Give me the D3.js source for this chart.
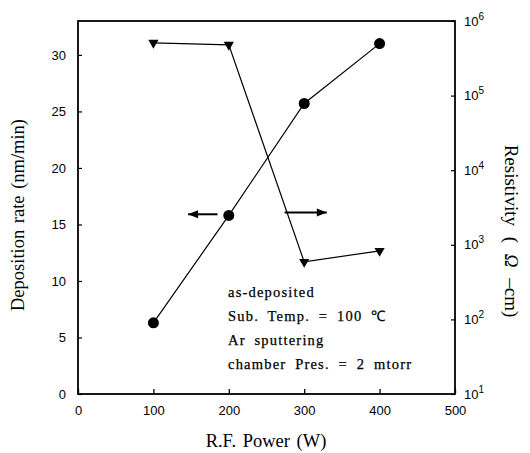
<!DOCTYPE html>
<html>
<head>
<meta charset="utf-8">
<script src="https://cdn.jsdelivr.net/npm/d3@7"></script>
<style>
  body { margin: 0; background: #fff; }
  svg { display: block; }
  .tick text { font-family: "Liberation Sans", Arial, sans-serif; font-size: 13px; fill: #000; }
</style>
</head>
<body>
<svg id="chart" width="530" height="453"></svg>
<script>
// Data
var power = [100, 200, 300, 400];
var depositionRate = [6.3, 15.8, 25.7, 31.0];
var resistivity = [5.1e5, 4.8e5, 590, 830];
var xTicks = [0, 100, 200, 300, 400, 500];
var yTicks = [0, 5, 10, 15, 20, 25, 30];
var rTicks = [1e1, 1e2, 1e3, 1e4, 1e5, 1e6];
var notes = ["as-deposited", "Sub. Temp. = 100 \u2103", "Ar sputtering", "chamber Pres. = 2 mtorr"];

var svg = d3.select("#chart");
// plot box (named so they don't clash with window.top)
var plotL = 78, plotR = 455, plotT = 21, plotB = 394;
var serif = "Liberation Serif, Times New Roman, serif";

var x = d3.scaleLinear().domain([0, 500]).range([plotL, plotR]);
var y = d3.scaleLinear().domain([0, 33]).range([plotB, plotT]);
var yR = d3.scaleLog().domain([10, 1e6]).range([plotB, plotT]);

// frame
svg.append("rect")
  .attr("x", plotL).attr("y", plotT)
  .attr("width", plotR - plotL).attr("height", plotB - plotT)
  .attr("fill", "none").attr("stroke", "#000").attr("stroke-width", 1.8);

// bottom axis (ticks inward)
var xAxis = svg.append("g")
  .attr("transform", "translate(0," + plotB + ")")
  .call(d3.axisBottom(x).tickValues(xTicks).tickSizeInner(-5).tickSizeOuter(0).tickPadding(12));
xAxis.select(".domain").remove();
xAxis.selectAll("line").attr("stroke-width", 1.3);

// left axis
var yAxis = svg.append("g")
  .attr("transform", "translate(" + plotL + ",0)")
  .call(d3.axisLeft(y).tickValues(yTicks).tickSizeInner(-4).tickSizeOuter(0).tickPadding(12));
yAxis.select(".domain").remove();
yAxis.selectAll("line").attr("stroke-width", 1.2);

// right log axis
var rAxis = svg.append("g")
  .attr("transform", "translate(" + plotR + ",0)")
  .call(d3.axisRight(yR).tickValues(rTicks).tickSizeInner(-4).tickSizeOuter(0).tickPadding(9).tickFormat(function() { return ""; }));
rAxis.select(".domain").remove();
rAxis.selectAll("line").attr("stroke-width", 1.2);
rAxis.selectAll(".tick text").each(function(d) {
  var t = d3.select(this);
  t.append("tspan").text("10");
  t.append("tspan").attr("dy", -6).attr("font-size", 10).text(Math.round(Math.log10(d)));
});

// deposition rate line + circles
var dep = power.map(function(p, i) { return [p, depositionRate[i]]; });
svg.append("path")
  .attr("d", d3.line().x(function(d) { return x(d[0]); }).y(function(d) { return y(d[1]); })(dep))
  .attr("fill", "none").attr("stroke", "#000").attr("stroke-width", 1.2);
svg.selectAll("circle.dep").data(dep).enter().append("circle")
  .attr("class", "dep")
  .attr("cx", function(d) { return x(d[0]); })
  .attr("cy", function(d) { return y(d[1]); })
  .attr("r", 5.5).attr("fill", "#000");

// resistivity line + down triangles
var res = power.map(function(p, i) { return [p, resistivity[i]]; });
svg.append("path")
  .attr("d", d3.line().x(function(d) { return x(d[0]); }).y(function(d) { return yR(d[1]); })(res))
  .attr("fill", "none").attr("stroke", "#000").attr("stroke-width", 1.2);
svg.selectAll("path.tri").data(res).enter().append("path")
  .attr("class", "tri")
  .attr("transform", function(d) { return "translate(" + x(d[0]) + "," + yR(d[1]) + ") rotate(180)"; })
  .attr("d", d3.symbol().type(d3.symbolTriangle).size(45))
  .attr("fill", "#000");

// arrows showing which axis each curve uses
function arrow(x1, x2, yy) {
  svg.append("line").attr("x1", x1).attr("x2", x2).attr("y1", yy).attr("y2", yy)
    .attr("stroke", "#000").attr("stroke-width", 2);
  var dir = x2 > x1 ? 1 : -1;
  svg.append("path")
    .attr("d", "M" + x2 + "," + yy + "L" + (x2 - dir * 10) + "," + (yy - 4) + "L" + (x2 - dir * 10) + "," + (yy + 4) + "Z")
    .attr("fill", "#000");
}
arrow(x(185), x(146), y(15.9));
arrow(x(274), x(330), yR(2700));

// annotation
svg.append("g").selectAll("text").data(notes).enter().append("text")
  .attr("x", 228)
  .attr("y", function(d, i) { return 297 + i * 24; })
  .attr("font-family", serif)
  .attr("font-size", 14.5)
  .attr("letter-spacing", 1.2)
  .attr("word-spacing", 4)
  .attr("stroke", "#000").attr("stroke-width", 0.25)
  .text(function(d) { return d; });

// axis titles
svg.append("text")
  .attr("x", 266).attr("y", 447)
  .attr("text-anchor", "middle")
  .attr("font-family", serif)
  .attr("font-size", 18.5)
  .attr("word-spacing", 2)
  .text("R.F. Power (W)");

svg.append("text")
  .attr("transform", "translate(24,215) rotate(-90)")
  .attr("text-anchor", "middle")
  .attr("font-family", serif)
  .attr("font-size", 18.5)
  .attr("word-spacing", 2)
  .text("Deposition rate (nm/min)");

var rt = svg.append("text")
  .attr("transform", "translate(505,231) rotate(90)")
  .attr("text-anchor", "middle")
  .attr("font-family", serif)
  .attr("font-size", 19)
  .attr("word-spacing", 6);
rt.append("tspan").text("Resistivity  ( ");
rt.append("tspan").attr("font-style", "italic").text("\u03A9");
rt.append("tspan").text(" \u2013cm)");
</script>
</body>
</html>
